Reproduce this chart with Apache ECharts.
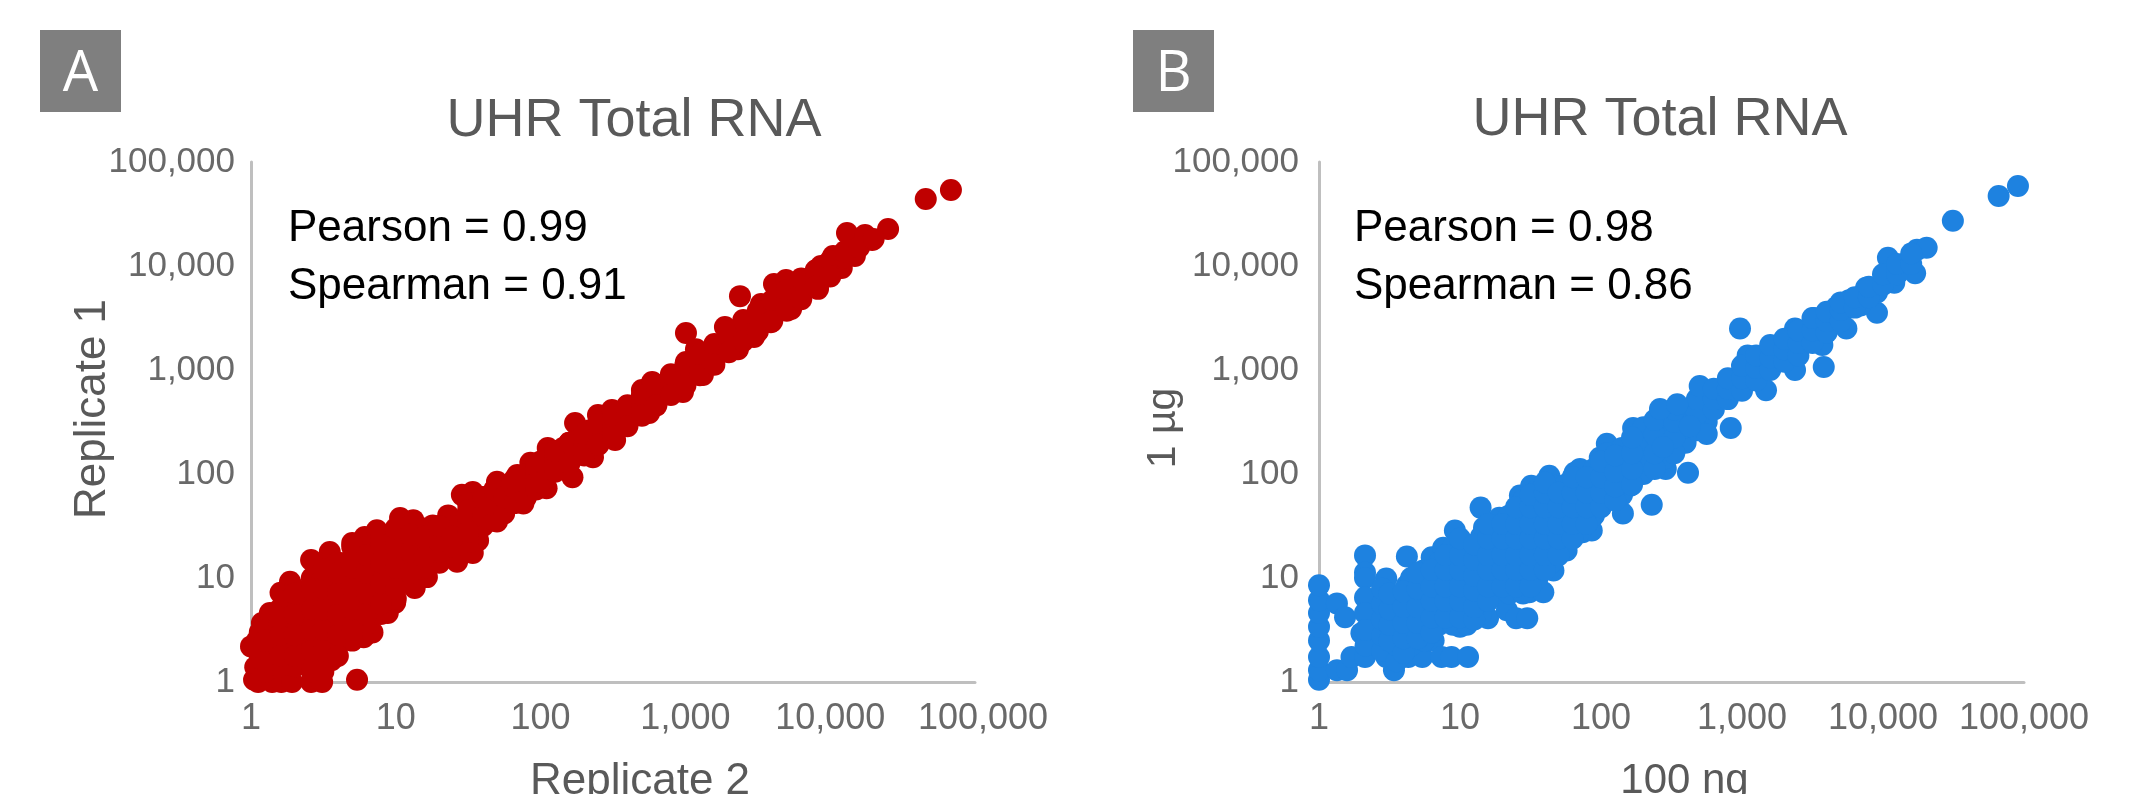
<!DOCTYPE html>
<html>
<head>
<meta charset="utf-8">
<style>html,body{margin:0;padding:0;background:#fff}#c{width:2143px;height:794px}</style>
<script src="https://cdn.jsdelivr.net/npm/echarts@6/dist/echarts.min.js"></script>
</head>
<body>
<div id="c"></div>
<script>
var tickValues = ['1', '10', '100', '1,000', '10,000', '100,000'];
var chartTitle = 'UHR Total RNA';
var panelLetters = ['A', 'B'];
var statsA = ['Pearson = 0.99', 'Spearman = 0.91'];
var statsB = ['Pearson = 0.98', 'Spearman = 0.86'];

// Panel A: [Replicate 2, Replicate 1]
var aLowUpper = [[1,2.2],[1.19,3.7],[1.35,4.6],[1.6,7.2],[1.86,9.2],[2.6,14.9],[3.5,17.8],[5,21.7],[6.1,24.8],[7.4,28.8],[10.7,37.8],[13.2,36],[18,32],[23,40],[28.6,63],[34,67],[50,84],[69,98],[85,128],[112,178],[143,178]];
var aLowLower = [[1.05,1.05],[1.07,1.39],[1.12,1],[1.4,1],[1.62,1],[1.92,1],[2.6,1],[3.1,1],[5.4,1.05],[3.6,1.62],[6,2.7],[6.9,3],[8.8,4.6],[9.9,5.8],[13.5,8],[16.4,10.2],[20,14],[26.5,14.3],[34,17.4],[37,23],[50,35],[76,52],[110,73],[166,93],[230,145]];
var aLowInner = [
  [1.26,1.26],[1.26,2],[1.26,3.16],
  [1.58,1.41],[1.58,2.24],[1.58,3.55],[1.58,5],
  [2,1.41],[2,2.24],[2,3.55],[2,5.6],[2,7.9],
  [2.63,1.58],[2.63,2.51],[2.63,3.98],[2.63,6.3],[2.63,10],
  [3.16,1.58],[3.16,2.51],[3.16,3.98],[3.16,6.3],[3.16,10],[3.16,14.1],
  [3.98,2.24],[3.98,3.55],[3.98,5.6],[3.98,8.9],[3.98,14.1],
  [5,2.5],[5,3.98],[5,6.3],[5,10],[5,15.8],
  [6.3,3.55],[6.3,5.6],[6.3,8.9],[6.3,14.1],[6.3,20],
  [7.9,4.5],[7.9,7.1],[7.9,11.2],[7.9,17.8],[7.9,25],
  [10,6.3],[10,10],[10,15.8],[10,25],
  [12.6,8.9],[12.6,14.1],[12.6,22.4],[12.6,31.6],
  [15.8,12.6],[15.8,20],[15.8,30],
  [20,17.8],[20,28],[25,20],[25,31.6],
  [31.6,22.4],[31.6,35.5],[31.6,52],
  [40,31.6],[40,50],[56,50],[56,74],[79,71],[79,100],
  [112,100],[112,141],[158,141],[158,200]
];
var aLowInnerB = [
  [1.15,1.7],[1.1,2.5],[1.15,3],[1.26,1.58],[1.26,2.51],
  [1.58,1.78],[1.58,2.82],[1.58,4.17],
  [2,1.78],[2,2.82],[2,4.47],[2,7.08],
  [2.63,1.26],[2.63,2],[2.63,3.16],[2.63,5],[2.63,7.9],
  [3.16,1.26],[3.16,2],[3.16,3.16],[3.16,5],[3.16,7.9],[3.16,12],
  [3.98,1.78],[3.98,2.82],[3.98,4.47],[3.98,7.08],[3.98,11.2],
  [5,3.16],[5,5],[5,7.9],[5,12.6],[5,20],
  [6.3,4.47],[6.3,7.08],[6.3,11.2],[6.3,16.6],
  [7.9,5.6],[7.9,8.9],[7.9,14.1],[7.9,20.9],
  [10,7.9],[10,12.6],[10,20],[10,30],
  [12.6,11.2],[12.6,17.8],[12.6,26.3],
  [15.8,15.8],[15.8,25],
  [20,22.4],[20,31.6],[25,25],
  [31.6,28],[31.6,44.7],[40,40],[40,60],
  [48,35.5],[48,50],[48,71],[56,41.7],[56,60],
  [66,52.5],[66,74],[66,89],[79,59],[79,83],
  [93,71],[93,100],[93,120]
];
var aHighUpper = [[173,309],[249,369],[311,412],[501,642],[589,767],[1009,1194],[1009,2270],[1183,1585],[1875,2590],[2382,5130],[3327,4315],[4090,6710],[4955,7330],[8630,10000],[10470,12470],[13060,20750],[17400,19860],[25100,22700],[45700,44050],[68200,53700]];
var aHighLower = [[327,212],[562,386],[962,614],[1320,895],[2307,1585],[2978,2075],[3890,2885],[5370,3860],[8240,6030],[12020,9550],[14800,12470],[19500,17800]];
var aHighMiddle = [[219,263],[414,412],[724,718],[1259,1247],[1738,1738],[2570,2710],[3548,3388],[4500,4900],[6170,6560],[9660,9120]];
var aBandFill = [
  [100,105],[100,132],[100,83],[126,132],[126,166],[126,105],
  [158,158],[158,200],[158,126],[200,191],[200,240],[200,151],
  [251,240],[251,302],[251,191],[316,288],[316,363],[316,229],
  [398,363],[398,457],[398,288],[501,457],[501,575],[501,363],
  [631,575],[631,724],[631,457],[794,724],[794,912],[794,575],
  [1000,891],[1000,1122],[1000,708],[1259,1122],[1259,1413],[1259,891],
  [1585,1413],[1585,1778],[1585,1122],[1995,1862],[1995,2344],[1995,1479],
  [2512,2399],[2512,3020],[2512,1905],[3162,2951],[3162,3715],[3162,2344],
  [3981,3715],[3981,4677],[3981,2951],[5012,4677],[5012,5888],[5012,3715],
  [6310,6026],[6310,7586],[6310,4786],[7943,7586],[7943,9120],[7943,6310],
  [10000,9550],[10000,11220],[10000,7943],[12589,12020],[12589,13800],
  [15849,15140],[19953,18200]
];

// Panel B: [100 ng, 1 ug]
var bLeftColumn = [[1,1.05],[1,1.3],[1,1.74],[1,2.5],[1,3.4],[1,4.6],[1,6.1],[1,8.5],[1.34,5.7],[1.53,4.2],[1.34,1.3],[1.58,1.3]];
var bLowUpper = [[1.7,1.74],[2.12,1.74],[2.12,16.5],[2.12,11.3],[2.12,10],[2.12,6.5],[2.12,4.6],[2,2.95],[3,9.9],[4.2,16.1],[4.2,8.5],[5.5,11.8],[6.3,15.8],[7.6,19.5],[9.2,28.6],[11.4,19.5],[14,47.5],[14.8,30.5],[19,38],[26.6,62],[32,77],[43,96],[65,103],[98,143],[110,195],[169,277]];
var bLowLower = [[3.4,1.3],[3,1.74],[3.1,2.7],[4.3,1.74],[5.4,1.74],[6.5,2.5],[7.4,1.74],[8.7,1.74],[11.4,1.74],[10,3.4],[15.8,4.1],[21.5,4.9],[25,4.1],[30,4.1],[31,7.3],[39,7.3],[46,11.8],[57,18.4],[74,27.5],[86,28.6],[143,41.7],[229,50.7],[161,77],[288,112],[414,103]];
var bLowInner = [
  [2.14,2.24],[2.14,3.16],
  [2.8,2],[2.8,2.8],[2.8,4],[2.8,5.6],[2.8,7.9],
  [3.55,1.58],[3.55,2.24],[3.55,3.16],[3.55,4.5],[3.55,6.3],
  [4.5,2.24],[4.5,3.16],[4.5,4.5],[4.5,6.3],[4.5,10],
  [5.6,2.5],[5.6,3.55],[5.6,5],[5.6,7.1],[5.6,10],
  [7.1,3.55],[7.1,5],[7.1,7.1],[7.1,10],[7.1,14.1],
  [8.9,3.55],[8.9,5],[8.9,7.1],[8.9,10],[8.9,14.1],[8.9,20],
  [11.2,3.55],[11.2,5],[11.2,7.1],[11.2,10],[11.2,14.1],[11.2,20],
  [14.1,4.5],[14.1,6.3],[14.1,8.9],[14.1,12.6],[14.1,17.8],[14.1,25],
  [17.8,7.1],[17.8,10],[17.8,14.1],[17.8,20],[17.8,28],
  [22.4,7.1],[22.4,10],[22.4,14.1],[22.4,20],[22.4,28],[22.4,40],
  [28,7.1],[28,10],[28,14.1],[28,20],[28,28],[28,40],[28,56],
  [35.5,10],[35.5,14.1],[35.5,20],[35.5,28],[35.5,40],[35.5,56],[35.5,71],
  [44.7,14.1],[44.7,20],[44.7,28],[44.7,40],[44.7,56],[44.7,79],
  [56,20],[56,28],[56,40],[56,56],[56,79],
  [71,28],[71,40],[71,56],[71,79],[71,112],
  [89,40],[89,56],[89,79],[89,112],
  [112,56],[112,79],[112,112],[112,158],
  [141,63],[141,89],[141,126],[141,178],
  [200,100],[200,141],[200,200],[200,282],
  [282,141],[282,200],[282,282],[282,398],
  [398,200],[398,282],[398,398],
  [562,316],[562,447],[562,631]
];
var bLowInnerB = [
  [3.16,2.5],[3.16,3.55],[3.16,5],[3.16,7.1],
  [3.98,1.9],[3.98,2.63],[3.98,3.7],[3.98,5.25],[3.98,7.4],
  [5,2.63],[5,3.7],[5,5.25],[5,7.9],[5,11.2],
  [6.3,3],[6.3,4.17],[6.3,6],[6.3,8.3],[6.3,12],
  [7.9,4.17],[7.9,6],[7.9,8.3],[7.9,12],[7.9,16.6],
  [10,4.17],[10,6],[10,8.3],[10,12],[10,16.6],[10,24],
  [12.6,4],[12.6,5.25],[12.6,7.6],[12.6,10.5],[12.6,15],[12.6,21],
  [15.8,6],[15.8,8.3],[15.8,12],[15.8,16.6],[15.8,24],[15.8,33],
  [20,8.3],[20,12],[20,16.6],[20,24],[20,33],
  [25,8.3],[25,12],[25,16.6],[25,24],[25,33],[25,48],
  [31.6,8.3],[31.6,12],[31.6,16.6],[31.6,24],[31.6,33],[31.6,48],[31.6,63],
  [40,12],[40,16.6],[40,24],[40,33],[40,48],[40,66],[40,83],
  [50,16.6],[50,24],[50,33],[50,48],[50,66],
  [63,24],[63,33],[63,48],[63,66],[63,93],
  [79,33],[79,48],[79,66],[79,93],
  [100,48],[100,66],[100,93],[100,132],
  [126,56],[126,76],[126,105],[126,151],
  [166,79],[166,112],[166,158],[166,224],
  [240,112],[240,158],[240,240],[240,331],
  [331,158],[331,224],[331,316],[331,417],
  [479,263],[479,380],[479,525]
];
var bHighUpper = [[262,422],[347,468],[501,700],[832,776],[968,2510],[1096,1380],[1622,1700],[2377,2510],[3236,3162],[4645,3981],[5750,4680],[7590,6170],[10840,12020],[17400,14350],[20400,15000],[31300,27200],[66100,47200],[90600,58900]];
var bHighLower = [[275,182],[562,243],[832,277],[1480,640],[2377,1000],[3800,1070],[3715,1738],[5500,2510],[9060,3550],[12020,6920],[16900,8510]];
var bHighMiddle = [[427,288],[661,501],[1096,832],[1622,1096],[2510,1738],[3980,2690],[6920,4170],[9060,5560],[13200,9660],[15500,11500]];
var bBandFill = [
  [631,417],[631,525],[631,661],[794,525],[794,661],[794,832],
  [1000,631],[1000,832],[1000,1096],[1259,794],[1259,1047],[1259,1380],
  [1585,1000],[1585,1318],[1585,1738],[1995,1202],[1995,1585],[1995,1995],
  [2512,1380],[2512,1820],[2512,2399],[3162,1820],[3162,2399],[3162,3162],
  [3981,2291],[3981,2951],[3981,3631],[5012,2951],[5012,3802],[5012,4467],
  [6310,3981],[6310,5012],[7943,5012],[7943,6310],
  [10000,6607],[10000,8318],[12589,8318],[12589,10470],[15849,10470],[15849,13180]
];

var panelAPoints = [].concat(aLowUpper, aLowLower, aLowInner, aLowInnerB, aHighUpper, aHighLower, aHighMiddle, aBandFill);
var panelBPoints = [].concat(bLeftColumn, bLowUpper, bLowLower, bLowInner, bLowInnerB, bHighUpper, bHighLower, bHighMiddle, bBandFill);

var FONT = '"Liberation Sans", Arial, sans-serif';
var TICK_COLOR = '#696969';
var TITLE_COLOR = '#595959';

function fmt(v) { return tickValues[Math.round(Math.log(v) / Math.LN10)]; }
function fmtShiftLast(v) {
  var i = Math.round(Math.log(v) / Math.LN10);
  return i === tickValues.length - 1 ? '{last|' + tickValues[i] + '}' : tickValues[i];
}

function commonAxis(index, name, nameSize, namePadding, gap, labels, moveOverlap) {
  return {
    type: 'log', logBase: 10, min: 1, max: 100000, gridIndex: index,
    name: name, nameLocation: 'middle', nameGap: gap, nameMoveOverlap: moveOverlap,
    nameTextStyle: { fontFamily: FONT, fontSize: nameSize, color: TITLE_COLOR, padding: namePadding },
    axisLine: { show: true, onZero: false, lineStyle: { color: '#BFBFBF', width: 3 } },
    axisTick: { show: false }, minorTick: { show: false }, splitLine: { show: false }, minorSplitLine: { show: false },
    axisLabel: labels
  };
}
function labelStyle(size, margin, formatter) {
  return {
    formatter: formatter, fontFamily: FONT, fontSize: size, color: TICK_COLOR, margin: margin, hideOverlap: false, showMinLabel: true, showMaxLabel: true,
    rich: { last: { fontFamily: FONT, fontSize: size, color: TICK_COLOR, padding: [0, 0, 0, 16] } }
  };
}
function series(index, points, color) {
  return {
    type: 'scatter', xAxisIndex: index, yAxisIndex: index, data: points, symbol: 'circle', large: false,
    symbolSize: 22, clip: false, silent: true, animation: false, itemStyle: { color: color, opacity: 1 }, z: 5
  };
}
function badge(left, letter) {
  return [
    { type: 'rect', shape: { x: left, y: 30, width: 81, height: 82 }, style: { fill: '#7F7F7F' }, silent: true },
    { type: 'text', x: left + 40.5, y: 75, style: { text: letter, fill: '#fff', font: '56px "Open Sans", sans-serif', textAlign: 'center', textVerticalAlign: 'middle' }, silent: true }
  ];
}
function stat(left, top, text) {
  return { type: 'text', x: left, y: top, style: { text: text, fill: '#000', font: '44px ' + FONT, textAlign: 'left', textVerticalAlign: 'middle' }, silent: true };
}

var chart = echarts.init(document.getElementById('c'), null, { renderer: 'canvas' });
chart.setOption({
  animation: false,
  backgroundColor: '#fff',
  title: [
    { text: chartTitle, left: 629, top: 116, textAlign: 'center', textVerticalAlign: 'middle', textStyle: { fontFamily: FONT, fontSize: 54, fontWeight: 'normal', color: TITLE_COLOR } },
    { text: chartTitle, left: 1655, top: 115, textAlign: 'center', textVerticalAlign: 'middle', textStyle: { fontFamily: FONT, fontSize: 54, fontWeight: 'normal', color: TITLE_COLOR } }
  ],
  grid: [
    { left: 251, top: 162, width: 724, height: 520, outerBoundsMode: 'none', containLabel: false },
    { left: 1319, top: 162, width: 705, height: 520, outerBoundsMode: 'none', containLabel: false }
  ],
  xAxis: [
    commonAxis(0, 'Replicate 2', 44, [0, 0, 0, 54], 78, labelStyle(36, 19, fmtShiftLast), true),
    commonAxis(1, '100 ng', 42, [0, 0, 0, 26], 78, labelStyle(36, 19, fmt), true)
  ],
  yAxis: [
    commonAxis(0, 'Replicate 1', 44, [0, 0, 0, 26], 136, labelStyle(35, 16, fmt), false),
    commonAxis(1, '1 \u00b5g', 41, [0, 12, 0, 0], 135, labelStyle(35, 20, fmt), false)
  ],
  series: [series(0, panelAPoints, '#BF0000'), series(1, panelBPoints, '#1E82E0')],
  graphic: [].concat(
    badge(40, panelLetters[0]), badge(1133, panelLetters[1]),
    [stat(288, 229, statsA[0]), stat(288, 287, statsA[1]), stat(1354, 229, statsB[0]), stat(1354, 287, statsB[1])]
  )
});
</script>
</body>
</html>
